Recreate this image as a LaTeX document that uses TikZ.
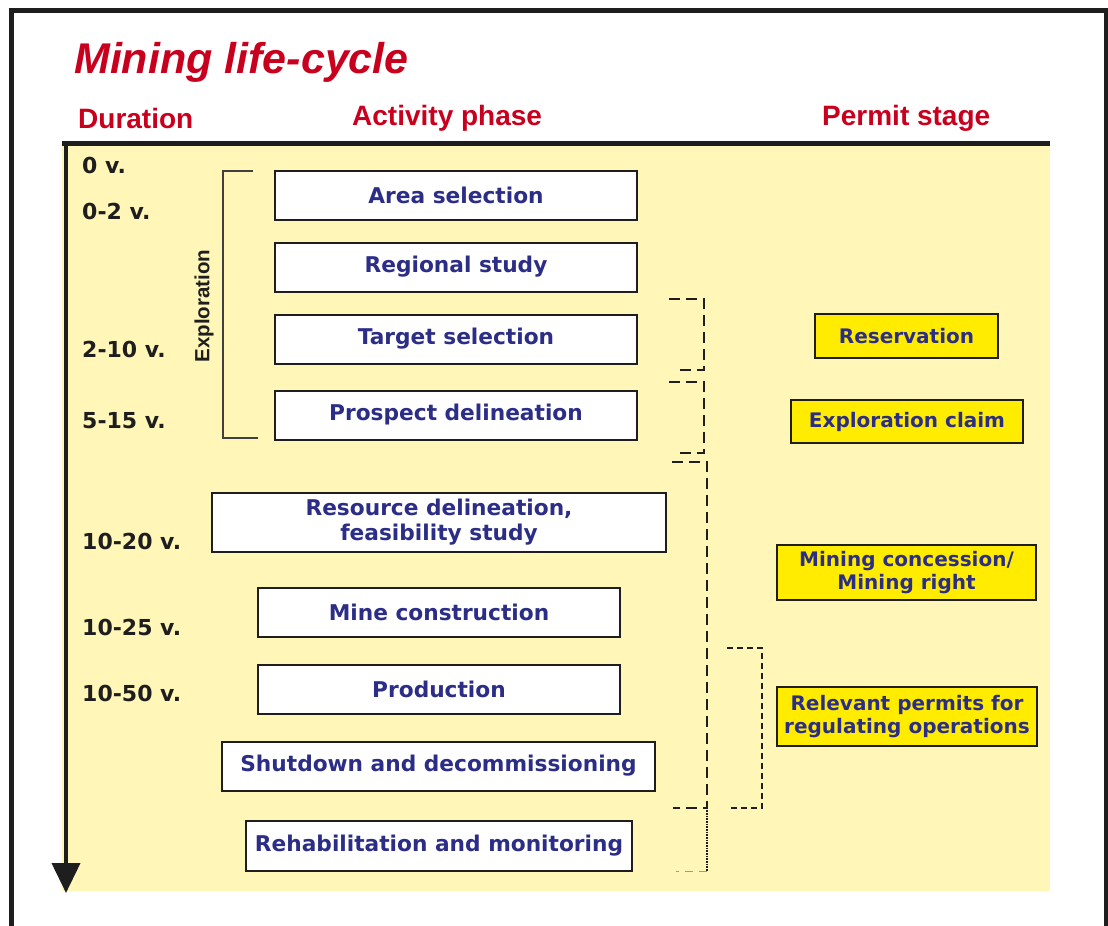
\documentclass[tikz,border=0pt]{standalone}
\usepackage{fontspec}
\setmainfont{Liberation Sans}
\newfontfamily\wide{DejaVu Sans}
\usepackage{xcolor}
\usetikzlibrary{arrows.meta}
\definecolor{ink}{HTML}{1E1E1E}
\definecolor{panel}{HTML}{FFF6B8}
\definecolor{head}{HTML}{C8001E}
\definecolor{navy}{HTML}{2B2D86}
\definecolor{permit}{HTML}{FFEC00}
\tikzset{
  phase/.style={draw=ink, fill=white, line width=2pt, inner sep=0pt, minimum height=49pt,
    text=navy, align=center, font={\wide\bfseries\fontsize{21.7}{25}\selectfont}},
  stage/.style={draw=ink, fill=permit, line width=2pt, inner sep=0pt,
    text=navy, align=center, font={\wide\bfseries\fontsize{20}{23.5}\selectfont}},
  dur/.style={anchor=west, inner sep=0pt, text=ink, font={\wide\bfseries\fontsize{22}{25}\selectfont}},
  hdr/.style={anchor=west, inner sep=0pt, text=head, font={\bfseries\fontsize{28}{32}\selectfont}},
  brk/.style={draw=ink!85, line width=2pt},
  dbrk/.style={draw=ink, line width=2pt, dash pattern=on 11pt off 6pt},
  fbrk/.style={draw=ink, line width=1.5pt, dash pattern=on 6pt off 4pt},
}

\begin{document}
\begin{tikzpicture}[x=1pt, y=-1pt]
  \useasboundingbox (0,0) rectangle (1108,926);

  % frame and panel
  \draw[ink, line width=5pt] (11,926) -- (11,10.5) -- (1106,10.5) -- (1106,926);
  \fill[panel] (62,143) rectangle (1050,891);
  \draw[ink, line width=5pt] (62,143.5) -- (1050,143.5);
  \draw[ink, line width=4pt, -{Triangle[length=30pt, width=28pt]}] (66,143) -- (66,893);

  % title and column heads
  \node[anchor=west, inner sep=0pt, text=head, font={\bfseries\itshape\fontsize{43}{48}\selectfont}]
    (title) at (74,62) {Mining life-cycle};
  \node[hdr] (hdur) at (78,118) {Duration};
  \node[hdr] (hact) at (352,118) {Activity phase};
  \node[hdr] (hper) at (822,118) {Permit stage};

  % durations
  \node[dur] (d1) at (82,165) {0 v.};
  \node[dur] (d2) at (82,211) {0-2 v.};
  \node[dur] (d3) at (82,349) {2-10 v.};
  \node[dur] (d4) at (82,421) {5-15 v.};
  \node[dur] (d5) at (82,541) {10-20 v.};
  \node[dur] (d6) at (82,627) {10-25 v.};
  \node[dur] (d7) at (82,693) {10-50 v.};

  % activity phases
  \node[phase, minimum width=362] (area) at (456,195) {Area selection};
  \node[phase, minimum width=362] (region) at (456,267) {Regional study};
  \node[phase, minimum width=362] (target) at (456,339) {Target selection};
  \node[phase, minimum width=362] (prospect) at (456,415) {Prospect delineation};
  \node[phase, minimum width=454, minimum height=59] (resource) at (439,522)
    {Resource delineation,\\feasibility study};
  \node[phase, minimum width=362] (construct) at (439,612) {Mine construction};
  \node[phase, minimum width=362] (produce) at (439,689) {Production};
  \node[phase, minimum width=433] (shutdown) at (438.5,766) {Shutdown and decommissioning};
  \node[phase, minimum width=386, minimum height=50] (rehab) at (439,846) {Rehabilitation and monitoring};

  % exploration bracket
  \draw[brk] (253,171) -- (223,171) -- (223,438) -- (258,438);
  \node[rotate=90, inner sep=0pt, text=ink, font={\bfseries\fontsize{20.5}{24}\selectfont}]
    (explo) at (204,306) {Exploration};

  % permit stages
  \node[stage, minimum width=183, minimum height=44] (reserve) at (906.5,336) {Reservation};
  \node[stage, minimum width=232, minimum height=43] (claim) at (907,421.5) {Exploration claim};
  \node[stage, minimum width=259, minimum height=55] (concess) at (906.5,572.5)
    {Mining concession/\\Mining right};
  \node[stage, minimum width=260, minimum height=59] (regul) at (907,716.5)
    {Relevant permits for\\regulating operations};

  % permit spans
  \draw[dbrk] (669,299) -- (704,299) -- (704,370) -- (677,370);
  \draw[dbrk] (669,382) -- (704,382) -- (704,453) -- (677,453);
  \draw[dbrk] (672,462) -- (707,462) -- (707,808) -- (673,808);
  \draw[ink, line width=1.5pt, dash pattern=on 1pt off 0.6pt] (707,808) -- (707,871);
  \draw[ink!45, line width=1pt, dash pattern=on 8pt off 6pt] (707,871) -- (676,871);
  \draw[fbrk] (727,648) -- (762,648) -- (762,808) -- (730,808);
\end{tikzpicture}
\end{document}
